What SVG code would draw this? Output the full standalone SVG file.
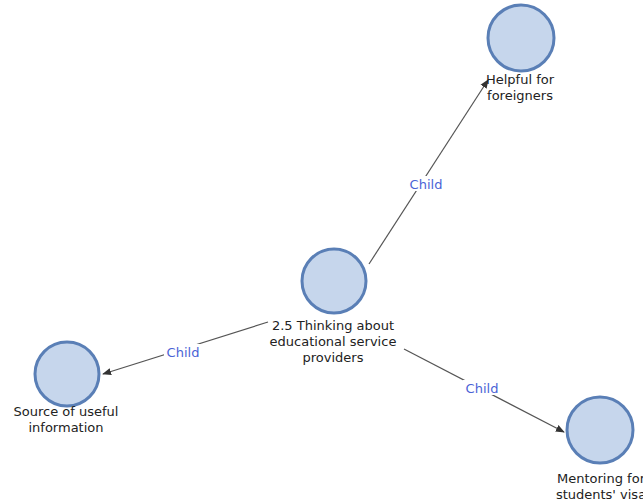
<svg xmlns="http://www.w3.org/2000/svg" width="643" height="503" viewBox="0 0 643 503">
  <style>
    .node circle { fill: #c6d6ec; stroke: #5a7fb6; stroke-width: 3; }
    .node text { font-family: "DejaVu Sans", Verdana, sans-serif; font-size: 13px; fill: #222; text-anchor: middle; }
    .edge line { stroke: #555; stroke-width: 1.2; }
    .edge-label rect { fill: #fff; }
    .edge-label text { font-family: "DejaVu Sans", Verdana, sans-serif; font-size: 13px; fill: #4a63d6; text-anchor: middle; }
  </style>
  <defs>
    <marker id="arrow" viewBox="0 0 10 10" refX="9" refY="5" markerWidth="9" markerHeight="9" markerUnits="userSpaceOnUse" orient="auto">
      <path d="M0,1 L10,5 L0,9 z" fill="#333"/>
    </marker>
  </defs>
  <rect width="643" height="503" fill="#fff"/>

  <g id="connectors">
    <g class="edge">
      <line x1="369" y1="264" x2="488" y2="80" marker-end="url(#arrow)"/>
      <line x1="268" y1="322" x2="103" y2="374" marker-end="url(#arrow)"/>
      <line x1="404" y1="349" x2="564" y2="432" marker-end="url(#arrow)"/>
    </g>
    <g class="edge-label">
      <rect x="407" y="176" width="38" height="15"/>
      <text x="426" y="189">Child</text>
      <rect x="164" y="344" width="38" height="15"/>
      <text x="183" y="357">Child</text>
      <rect x="463" y="380" width="38" height="15"/>
      <text x="482" y="393">Child</text>
    </g>
  </g>

  <g id="node-center" class="node">
    <circle cx="334" cy="281" r="32"/>
    <text x="333" y="330">2.5 Thinking about</text>
    <text x="333" y="346">educational service</text>
    <text x="333" y="362">providers</text>
  </g>

  <g id="node-helpful" class="node">
    <circle cx="521" cy="38" r="33"/>
    <text x="520" y="84">Helpful for</text>
    <text x="520" y="100">foreigners</text>
  </g>

  <g id="node-source" class="node">
    <circle cx="67" cy="374" r="32"/>
    <text x="66" y="416">Source of useful</text>
    <text x="66" y="432">information</text>
  </g>

  <g id="node-mentoring" class="node">
    <circle cx="600" cy="430" r="33"/>
    <text x="601" y="483">Mentoring for</text>
    <text x="601" y="499">students' visa</text>
  </g>
</svg>
